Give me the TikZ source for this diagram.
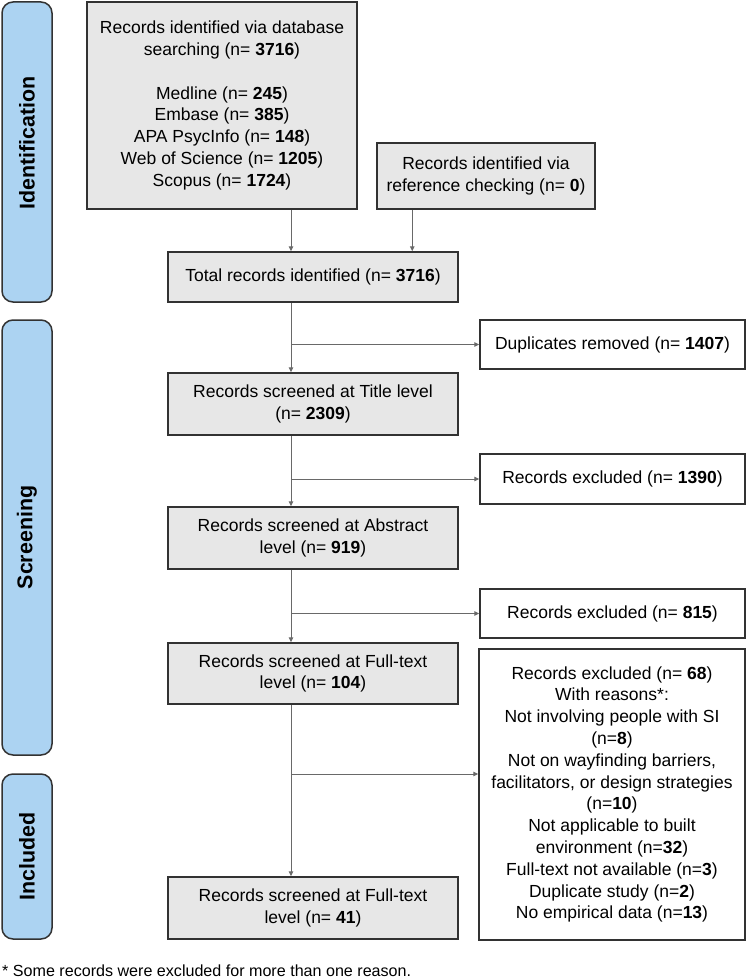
\documentclass[tikz,border=0pt]{standalone}
\usepackage{fontspec}
\setmainfont{Liberation Sans}
\usetikzlibrary{arrows.meta}
\definecolor{boxgray}{RGB}{231,231,231}
\definecolor{phaseblue}{RGB}{172,211,242}
\definecolor{edgegray}{RGB}{50,50,50}
\definecolor{wiregray}{RGB}{105,105,105}
\begin{document}
\begin{tikzpicture}[x=1pt,y=-1pt,
  every node/.style={font=\fontsize{17.5}{21.8}\selectfont, align=center, inner sep=0pt},
  stage/.style={draw=edgegray, line width=1.5pt, fill=boxgray},
  outbox/.style={draw=edgegray, line width=1.5pt, fill=white},
  phase/.style={draw=edgegray, line width=1.5pt, fill=phaseblue, rounded corners=11pt},
  phasename/.style={rotate=90, font=\fontsize{21.4}{22}\selectfont\bfseries},
  flow/.style={draw=wiregray, line width=1pt, -{Triangle[length=5pt,width=4.5pt]}},
  wire/.style={draw=wiregray, line width=1pt}]
\useasboundingbox (0,0) rectangle (747,979);
% phase bands on the left
\node[phase, minimum width=50pt, minimum height=300pt] (ident)  at (27,152)   {};
\node[phase, minimum width=50pt, minimum height=435pt] (screen) at (27,537.5) {};
\node[phase, minimum width=50pt, minimum height=165pt] (incl)   at (27,856.5) {};
\node[phasename] (identname)  at (27,143)   {Identification};
\node[phasename] (screenname) at (27,537.5) {Screening};
\node[phasename] (inclname)   at (27,856.5) {Included};
% main column
\node[stage, minimum width=270pt, minimum height=207pt] (db) at (222,105.5)
  {Records identified via database\\
   searching (n= \textbf{3716})\\[21.8pt]
   Medline (n= \textbf{245})\\
   Embase (n= \textbf{385})\\
   APA PsycInfo (n= \textbf{148})\\
   Web of Science (n= \textbf{1205})\\
   Scopus (n= \textbf{1724})};
\node[stage, minimum width=218pt, minimum height=66pt] (refs) at (486,176)
  {Records identified via\\reference checking (n= \textbf{0})};
\node[stage, minimum width=290pt, minimum height=50pt] (total) at (313,277)
  {Total records identified (n= \textbf{3716})};
\node[stage, minimum width=290pt, minimum height=62pt] (title) at (313,404)
  {Records screened at Title level\\(n= \textbf{2309})};
\node[stage, minimum width=290pt, minimum height=62pt] (abstract) at (313,538)
  {Records screened at Abstract\\level (n= \textbf{919})};
\node[stage, minimum width=290pt, minimum height=61pt] (full) at (313,673.5)
  {Records screened at Full-text\\level (n= \textbf{104})};
\node[stage, minimum width=290pt, minimum height=62pt] (final) at (313,908)
  {Records screened at Full-text\\level (n= \textbf{41})};
% exclusions on the right
\node[outbox, minimum width=265pt, minimum height=49pt] (dup) at (612.5,344.5)
  {Duplicates removed (n= \textbf{1407})};
\node[outbox, minimum width=265pt, minimum height=50pt] (exA) at (612.5,479)
  {Records excluded (n= \textbf{1390})};
\node[outbox, minimum width=265pt, minimum height=49pt] (exB) at (612.5,613.5)
  {Records excluded (n= \textbf{815})};
\node[outbox, minimum width=266pt, minimum height=291pt] (reasons) at (612,794.5)
  {Records excluded (n= \textbf{68})\\
   With reasons*:\\
   Not involving people with SI\\
   (n=\textbf{8})\\
   Not on wayfinding barriers,\\
   facilitators, or design strategies\\
   (n=\textbf{10})\\
   Not applicable to built\\
   environment (n=\textbf{32})\\
   Full-text not available (n=\textbf{3})\\
   Duplicate study (n=\textbf{2})\\
   No empirical data (n=\textbf{13})};
\node[anchor=base west, font=\fontsize{16.1}{18}\selectfont] (note) at (2,976)
  {* Some records were excluded for more than one reason.};
% connectors
\coordinate (spine) at (291,0);
\coordinate (refx) at ([xshift=36pt]refs.south west);
\draw[flow] (db.south -| spine) -- (total.north -| spine);
\draw[flow] (refx) -- (refx |- total.north);
\draw[flow] (total.south -| spine) -- (title.north -| spine);
\draw[flow] (title.south -| spine) -- (abstract.north -| spine);
\draw[flow] (abstract.south -| spine) -- (full.north -| spine);
\draw[flow] (full.south -| spine) -- (final.north -| spine);
\draw[flow] (dup.west -| spine) -- (dup.west);
\draw[flow] (exA.west -| spine) -- (exA.west);
\draw[flow] (exB.west -| spine) -- (exB.west);
\draw[flow] ([yshift=20.5pt]reasons.west -| spine) -- ([yshift=20.5pt]reasons.west);
\end{tikzpicture}
\end{document}
